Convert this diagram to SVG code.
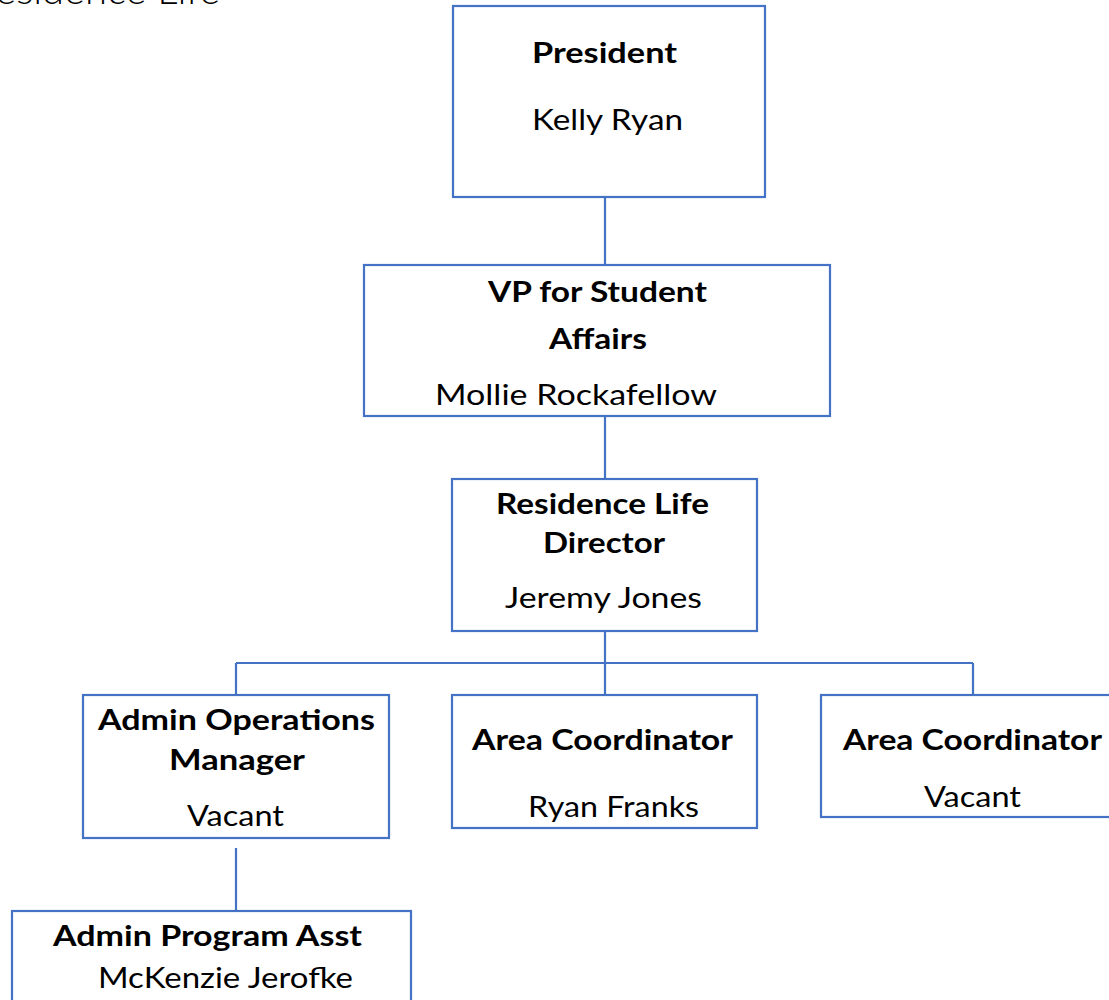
<svg xmlns="http://www.w3.org/2000/svg" width="1109" height="1000" viewBox="0 0 1109 1000">
<style>
.box{fill:#fff;stroke:#4472C4;stroke-width:2.2}
.con{stroke:#4472C4;stroke-width:2.2;fill:none}
.t{font-family:Lato,"Liberation Sans",sans-serif;font-size:28px;fill:#000}
.b{font-weight:700}
.title{font-family:Lato,"Liberation Sans",sans-serif;font-weight:300;font-size:40px;fill:#000}
</style>
<rect width="1109" height="1000" fill="#fff"/>
<text class="title" x="220" y="4" text-anchor="end">Residence Life</text>
<g id="connectors">
<line class="con" x1="605" y1="197" x2="605" y2="265"/>
<line class="con" x1="605" y1="416" x2="605" y2="479"/>
<line class="con" x1="605" y1="631" x2="605" y2="695"/>
<line class="con" x1="236" y1="663" x2="973" y2="663"/>
<line class="con" x1="236" y1="663" x2="236" y2="695"/>
<line class="con" x1="973" y1="663" x2="973" y2="695"/>
<line class="con" x1="236" y1="848" x2="236" y2="911"/>
</g>
<g id="president">
<rect class="box" x="453" y="6" width="312" height="191"/>
<text class="t b" x="532" y="63" textLength="145" lengthAdjust="spacingAndGlyphs">President</text>
<text class="t" x="532" y="130" textLength="151" lengthAdjust="spacingAndGlyphs">Kelly Ryan</text>
</g>
<g id="vp">
<rect class="box" x="364" y="265" width="466" height="151"/>
<text class="t b" x="488" y="302" textLength="219" lengthAdjust="spacingAndGlyphs">VP for Student</text>
<text class="t b" x="549" y="349" textLength="98" lengthAdjust="spacingAndGlyphs">Affairs</text>
<text class="t" x="435" y="405" textLength="282" lengthAdjust="spacingAndGlyphs">Mollie Rockafellow</text>
</g>
<g id="director">
<rect class="box" x="452" y="479" width="305" height="152"/>
<text class="t b" x="496" y="514" textLength="213" lengthAdjust="spacingAndGlyphs">Residence Life</text>
<text class="t b" x="543" y="553" textLength="122" lengthAdjust="spacingAndGlyphs">Director</text>
<text class="t" x="505" y="608" textLength="197" lengthAdjust="spacingAndGlyphs">Jeremy Jones</text>
</g>
<g id="admin-ops">
<rect class="box" x="83" y="695" width="306" height="143"/>
<text class="t b" x="98" y="730" textLength="277" lengthAdjust="spacingAndGlyphs">Admin Operations</text>
<text class="t b" x="169" y="770" textLength="136" lengthAdjust="spacingAndGlyphs">Manager</text>
<text class="t" x="187" y="826" textLength="97" lengthAdjust="spacingAndGlyphs">Vacant</text>
</g>
<g id="area-coord-1">
<rect class="box" x="452" y="695" width="305" height="133"/>
<text class="t b" x="472" y="750" textLength="261" lengthAdjust="spacingAndGlyphs">Area Coordinator</text>
<text class="t" x="528" y="817" textLength="171" lengthAdjust="spacingAndGlyphs">Ryan Franks</text>
</g>
<g id="area-coord-2">
<rect class="box" x="821" y="695" width="310" height="122"/>
<text class="t b" x="843" y="750" textLength="259" lengthAdjust="spacingAndGlyphs">Area Coordinator</text>
<text class="t" x="924" y="807" textLength="97" lengthAdjust="spacingAndGlyphs">Vacant</text>
</g>
<g id="admin-program-asst">
<rect class="box" x="12" y="911" width="399" height="120"/>
<text class="t b" x="53" y="946" textLength="309" lengthAdjust="spacingAndGlyphs">Admin Program Asst</text>
<text class="t" x="98" y="988" textLength="255" lengthAdjust="spacingAndGlyphs">McKenzie Jerofke</text>
</g>
</svg>
